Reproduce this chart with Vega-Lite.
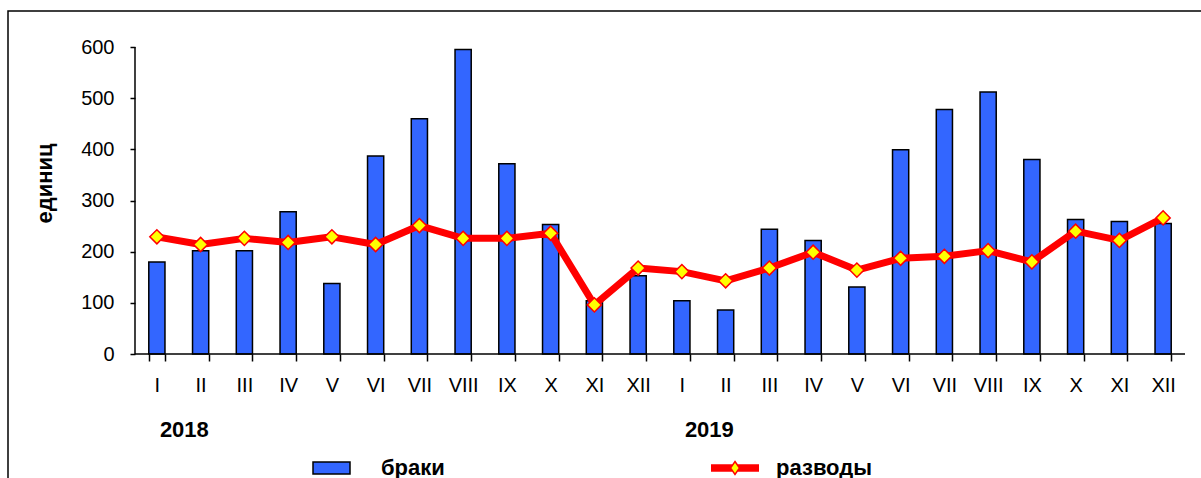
{
  "$schema": "https://vega.github.io/schema/vega-lite/v6.json",
  "width": 1201,
  "height": 478,
  "autosize": {"type": "fit", "contains": "padding"},
  "padding": {"left": 8, "top": 11, "right": -4, "bottom": -30},
  "background": "white",
  "config": {
    "font": "Liberation Sans",
    "view": {"stroke": "black", "strokeWidth": 1.5},
    "axis": {"grid": false, "domain": false, "tickColor": "black", "labelColor": "black", "tickWidth": 1.5}
  },
  "datasets": {
    "months": [
      {"key": "2018-I", "brak": 180, "razvod": 229},
      {"key": "2018-II", "brak": 202, "razvod": 214},
      {"key": "2018-III", "brak": 202, "razvod": 226},
      {"key": "2018-IV", "brak": 278, "razvod": 218},
      {"key": "2018-V", "brak": 138, "razvod": 229},
      {"key": "2018-VI", "brak": 387, "razvod": 214},
      {"key": "2018-VII", "brak": 460, "razvod": 251},
      {"key": "2018-VIII", "brak": 595, "razvod": 226},
      {"key": "2018-IX", "brak": 372, "razvod": 226},
      {"key": "2018-X", "brak": 253, "razvod": 236},
      {"key": "2018-XI", "brak": 104, "razvod": 96},
      {"key": "2018-XII", "brak": 153, "razvod": 168},
      {"key": "2019-I", "brak": 104, "razvod": 161},
      {"key": "2019-II", "brak": 86, "razvod": 143},
      {"key": "2019-III", "brak": 244, "razvod": 168},
      {"key": "2019-IV", "brak": 222, "razvod": 199},
      {"key": "2019-V", "brak": 131, "razvod": 164},
      {"key": "2019-VI", "brak": 399, "razvod": 187},
      {"key": "2019-VII", "brak": 478, "razvod": 191},
      {"key": "2019-VIII", "brak": 512, "razvod": 202},
      {"key": "2019-IX", "brak": 380, "razvod": 180},
      {"key": "2019-X", "brak": 263, "razvod": 240},
      {"key": "2019-XI", "brak": 259, "razvod": 222},
      {"key": "2019-XII", "brak": 255, "razvod": 266}
    ],
    "years": [
      {"key": "2018-I", "label": "2018"},
      {"key": "2019-I", "label": "2019"}
    ]
  },
  "encoding": {
    "x": {
      "field": "key",
      "type": "nominal",
      "scale": {
        "domain": ["2018-I","2018-II","2018-III","2018-IV","2018-V","2018-VI","2018-VII","2018-VIII","2018-IX","2018-X","2018-XI","2018-XII","2019-I","2019-II","2019-III","2019-IV","2019-V","2019-VI","2019-VII","2019-VIII","2019-IX","2019-X","2019-XI","2019-XII"],
        "range": [127, 1177],
        "paddingInner": 0.63,
        "paddingOuter": 0.315
      },
      "axis": {
        "title": null,
        "labelExpr": "split(datum.value, '-')[1]",
        "labelAngle": 0,
        "labelFontSize": 20,
        "labelPadding": 14,
        "tickSize": 7,
        "tickBand": "extent",
        "offset": -154,
        "encode": {"ticks": {"update": {"y": {"value": -6}, "y2": {"value": 7}}}}
      }
    }
  },
  "layer": [
    {
      "data": {"name": "months"},
      "mark": {"type": "bar", "stroke": "black", "strokeWidth": 1.5},
      "encoding": {
        "y": {
          "field": "brak",
          "type": "quantitative",
          "scale": {"domain": [0, 600], "range": [343, 36], "nice": false, "zero": true},
          "axis": {
            "title": "единиц",
            "titleFontSize": 22,
            "titleFontWeight": "bold",
            "titleX": -79,
            "titleY": 172,
            "values": [0, 100, 200, 300, 400, 500, 600],
            "labelFontSize": 20,
            "labelPadding": 16,
            "tickSize": 5,
            "offset": -127,
            "encode": {"ticks": {"update": {"x": {"value": 7}, "x2": {"value": -5}}}}
          }
        },
        "fill": {
          "datum": "браки",
          "type": "nominal",
          "scale": {"domain": ["браки"], "range": ["#3366FF"]},
          "legend": {
            "title": null,
            "orient": "none",
            "legendX": 304,
            "legendY": 437.5,
            "labelFontSize": 22,
            "labelFontWeight": "bold",
            "labelColor": "black",
            "labelOffset": 30,
            "symbolType": "M-1,-0.324H1V0.324H-1Z",
            "symbolSize": 1369,
            "symbolStrokeColor": "black",
            "symbolStrokeWidth": 1.5
          }
        }
      }
    },
    {
      "data": {"values": [{}]},
      "mark": {"type": "rule", "color": "black", "strokeWidth": 1.5},
      "encoding": {
        "x": {"datum": "2018-I", "bandPosition": -0.8514},
        "y": {"datum": 0, "type": "quantitative"},
        "y2": {"datum": 600}
      }
    },
    {
      "data": {"values": [{}]},
      "mark": {"type": "rule", "color": "black", "strokeWidth": 1.5},
      "encoding": {
        "x": {"datum": "2018-I", "bandPosition": -0.8514},
        "x2": {"datum": "2019-XII", "bandPosition": 1.8514},
        "y": {"datum": 0, "type": "quantitative"}
      }
    },
    {
      "data": {"name": "months"},
      "mark": {"type": "line", "color": "#FF0000", "strokeWidth": 7, "strokeJoin": "round", "strokeCap": "round"},
      "encoding": {
        "y": {"field": "razvod", "type": "quantitative"}
      }
    },
    {
      "data": {"name": "months"},
      "mark": {"type": "point", "shape": "diamond", "filled": true, "fill": "#FFFF00", "strokeWidth": 1.5, "size": 200, "opacity": 1},
      "encoding": {
        "y": {"field": "razvod", "type": "quantitative"},
        "stroke": {
          "datum": "разводы",
          "type": "nominal",
          "scale": {"domain": ["разводы"], "range": ["#FF0000"]},
          "legend": {
            "title": null,
            "orient": "none",
            "legendX": 702,
            "legendY": 432,
            "labelFontSize": 22,
            "labelFontWeight": "bold",
            "labelColor": "black",
            "labelOffset": 16,
            "symbolType": "M-1,-0.125H-0.101M-1,-0.0625H-0.144M-1,0H-0.1875M-1,0.0625H-0.144M-1,0.125H-0.101M0.101,-0.125H1M0.144,-0.0625H1M0.1875,0H1M0.144,0.0625H1M0.101,0.125H1M0,-0.27L0.1875,0L0,0.27L-0.1875,0Z",
            "symbolSize": 2304,
            "symbolFillColor": "#FFFF00",
            "symbolStrokeWidth": 1.5
          }
        }
      }
    },
    {
      "data": {"name": "years"},
      "mark": {"type": "text", "align": "left", "baseline": "middle", "dx": 3, "dy": 76, "fontSize": 22, "fontWeight": "bold", "color": "black"},
      "encoding": {
        "y": {"datum": 0, "type": "quantitative"},
        "text": {"field": "label"}
      }
    }
  ]
}
